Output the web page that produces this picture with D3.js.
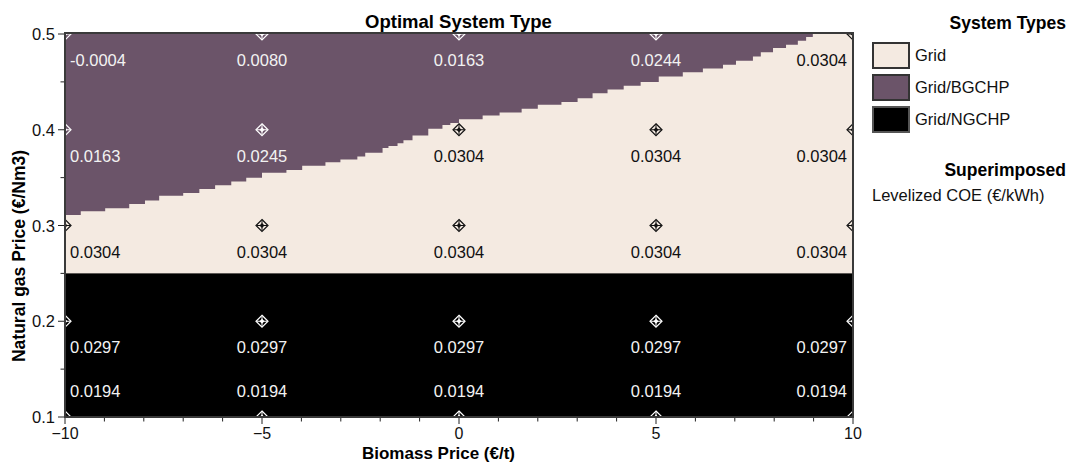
<!DOCTYPE html>
<html><head><meta charset="utf-8">
<script src="https://cdn.jsdelivr.net/npm/d3@7"></script>
<style>
body{margin:0;background:#fff}
text{font-family:"Liberation Sans",Arial,sans-serif}
</style>
</head><body>
<svg id="chart" width="1068" height="463"></svg>
<script>
// ---------- data ----------
const biomassPrices = [-10, -5, 0, 5, 10];
const gasPrices = [0.5, 0.4, 0.3, 0.2, 0.1];
const xTicks = [-10, -5, 0, 5, 10];
const yTicks = [0.1, 0.2, 0.3, 0.4, 0.5];
const systemTypes = ["Grid", "Grid/BGCHP", "Grid/NGCHP"];
const typeColors = ["#f4eae1", "#6b5469", "#000000"];
// Levelized COE (€/kWh) per gas row (top to bottom) and biomass column
const coeRows = [
  ["-0.0004", "0.0080", "0.0163", "0.0244", "0.0304"],
  ["0.0163", "0.0245", "0.0304", "0.0304", "0.0304"],
  ["0.0304", "0.0304", "0.0304", "0.0304", "0.0304"],
  ["0.0297", "0.0297", "0.0297", "0.0297", "0.0297"],
  ["0.0194", "0.0194", "0.0194", "0.0194", "0.0194"]
];
// optimal system type index at each grid point
const optimalRows = [
  [1, 1, 1, 1, 0],
  [1, 1, 0, 0, 0],
  [0, 0, 0, 0, 0],
  [2, 2, 2, 2, 2],
  [2, 2, 2, 2, 2]
];
// Grid/BGCHP is optimal above this stepped boundary (biomass price -> gas price)
const bgchpStepBiomass = [-10, -9.60, -8.98, -8.37, -7.97, -7.61, -7.00, -6.59, -6.19, -5.78, -5.40,
  -5.00, -4.38, -3.98, -3.39, -3.01, -2.58, -2.38, -1.94, -1.79, -1.56, -1.41, -1.18, -0.78, -0.42, -0.22,
  0.00, 0.60, 1.03, 1.59, 2.00, 2.60, 3.01, 3.39, 3.77, 4.18, 4.61,
  5.07, 5.68, 6.19, 6.70, 7.03, 7.46, 7.66, 7.97, 8.30, 8.60, 8.81, 8.98];
const bgchpStepGas = [0.311, 0.315, 0.318, 0.3225, 0.326, 0.331, 0.334, 0.338, 0.342, 0.346, 0.350,
  0.355, 0.358, 0.3625, 0.366, 0.369, 0.372, 0.376, 0.381, 0.383, 0.386, 0.389, 0.394, 0.401, 0.405, 0.407,
  0.411, 0.415, 0.418, 0.422, 0.426, 0.429, 0.433, 0.438, 0.442, 0.446, 0.450,
  0.4556, 0.460, 0.464, 0.468, 0.472, 0.4766, 0.481, 0.4854, 0.4888, 0.493, 0.4969, 0.5];
// Grid/NGCHP is optimal below this gas price
const ngchpMaxGas = 0.25;

// ---------- layout ----------
const svg = d3.select("#chart");
const X0 = 65, X1 = 853, Y0 = 417, Y1 = 34;
const x = d3.scaleLinear().domain([-10, 10]).range([X0, X1]);
const y = d3.scaleLinear().domain([0.1, 0.5]).range([Y0, Y1]);
const FONT = 16.5;

svg.append("defs").append("clipPath").attr("id", "plotclip")
  .append("rect").attr("x", X0).attr("y", Y1).attr("width", X1 - X0).attr("height", Y0 - Y1);

const plot = svg.append("g").attr("clip-path", "url(#plotclip)");
// Grid region (background)
plot.append("rect").attr("x", X0).attr("y", Y1).attr("width", X1 - X0).attr("height", Y0 - Y1)
  .attr("fill", typeColors[0]);
// NGCHP region
plot.append("rect").attr("x", X0).attr("y", y(ngchpMaxGas)).attr("width", X1 - X0)
  .attr("height", y(0.1) - y(ngchpMaxGas)).attr("fill", typeColors[2]);
// BGCHP region
const stepData = bgchpStepBiomass.map((b, i) => [b, bgchpStepGas[i]]);
plot.append("path").datum(stepData)
  .attr("d", d3.area().x(d => x(d[0])).y0(y(0.5)).y1(d => y(d[1])).curve(d3.curveStepAfter))
  .attr("fill", typeColors[1]);

// markers and labels
const pts = [];
gasPrices.forEach((g, r) => biomassPrices.forEach((b, c) => {
  pts.push({b, g, r, c, t: optimalRows[r][c], label: coeRows[r][c]});
}));
const mk = plot.selectAll("g.mk").data(pts).enter().append("g")
  .attr("transform", d => `translate(${x(d.b)},${y(d.g)})`);
const mcol = d => d.t === 0 ? "#111" : "#fff";
mk.append("path").attr("d", "M0,-6L6,0L0,6L-6,0Z").attr("fill", "none")
  .attr("stroke", mcol).attr("stroke-width", 1.2);
mk.append("path").attr("d", "M0,-5V5M-5,0H5").attr("stroke", mcol).attr("stroke-width", 1);
mk.append("path").attr("d", "M0,-2.5L2.5,0L0,2.5L-2.5,0Z").attr("fill", mcol);

const labels = svg.append("g").selectAll("text").data(pts).enter().append("text")
  .attr("font-size", FONT)
  .attr("fill", d => d.t === 0 ? "#111" : "#f2f2f2")
  .attr("y", d => d.g <= 0.1 ? y(d.g) - 20.5 : y(d.g) + 32)
  .text(d => d.label);
labels.each(function(d) {
  const w = this.getComputedTextLength();
  let left = x(d.b) - w / 2;
  left = Math.max(X0 + 5, Math.min(X1 - 6 - w, left));
  d3.select(this).attr("x", left);
});

// frame
svg.append("rect").attr("x", X0).attr("y", Y1 - 1).attr("width", X1 - X0).attr("height", Y0 - Y1 + 1)
  .attr("fill", "none").attr("stroke", "#3a3a3a").attr("stroke-width", 2);

// axes
const xAxis = svg.append("g").attr("transform", `translate(0,${Y0 + 1})`);
xAxis.selectAll("line.minor").data(d3.range(-10, 10.5, 1)).enter().append("line")
  .attr("x1", d => x(d)).attr("x2", d => x(d)).attr("y1", 0)
  .attr("y2", d => xTicks.includes(d) ? 6 : 3.5).attr("stroke", "#222").attr("stroke-width", 1);
xAxis.selectAll("text").data(xTicks).enter().append("text")
  .attr("x", d => x(d)).attr("y", 21).attr("text-anchor", "middle")
  .attr("font-size", 16).attr("fill", "#111").text(d => d3.format("d")(d));

const yAxis = svg.append("g").attr("transform", `translate(${X0 - 1},0)`);
yAxis.selectAll("line").data(d3.range(0.1, 0.5001, 0.05)).enter().append("line")
  .attr("x1", 0).attr("x2", (d, i) => i % 2 === 0 ? -6 : -3.5)
  .attr("y1", d => y(d)).attr("y2", d => y(d)).attr("stroke", "#222").attr("stroke-width", 1);
yAxis.selectAll("text").data(yTicks).enter().append("text")
  .attr("x", -9).attr("y", d => y(d) + 6).attr("text-anchor", "end")
  .attr("font-size", FONT).attr("fill", "#111").text(d => d3.format(".1f")(d));

// titles
svg.append("text").attr("x", 458.5).attr("y", 28).attr("text-anchor", "middle")
  .attr("font-size", 18.5).attr("font-weight", "bold").text("Optimal System Type");
svg.append("text").attr("x", 438.5).attr("y", 459).attr("text-anchor", "middle")
  .attr("font-size", 17).attr("font-weight", "bold").text("Biomass Price (€/t)");
svg.append("text").attr("transform", "translate(25,256) rotate(-90)").attr("text-anchor", "middle")
  .attr("font-size", 17.5).attr("font-weight", "bold").text("Natural gas Price (€/Nm3)");

// legend
svg.append("text").attr("x", 1066).attr("y", 28.5).attr("text-anchor", "end")
  .attr("font-size", 17.5).attr("font-weight", "bold").text("System Types");
const lg = svg.append("g").selectAll("g").data(systemTypes).enter().append("g")
  .attr("transform", (d, i) => `translate(873,${43 + i * 32})`);
lg.append("rect").attr("width", 36).attr("height", 25)
  .attr("fill", (d, i) => typeColors[i])
  .attr("stroke", (d, i) => i === 2 ? "#555" : "#333").attr("stroke-width", 2);
lg.append("text").attr("x", 42).attr("y", 18).attr("font-size", FONT).attr("fill", "#111").text(d => d);
svg.append("text").attr("x", 1066).attr("y", 176).attr("text-anchor", "end")
  .attr("font-size", 17.5).attr("font-weight", "bold").text("Superimposed");
svg.append("text").attr("x", 872).attr("y", 201)
  .attr("font-size", FONT).attr("fill", "#111").text("Levelized COE (€/kWh)");
</script>
</body></html>
